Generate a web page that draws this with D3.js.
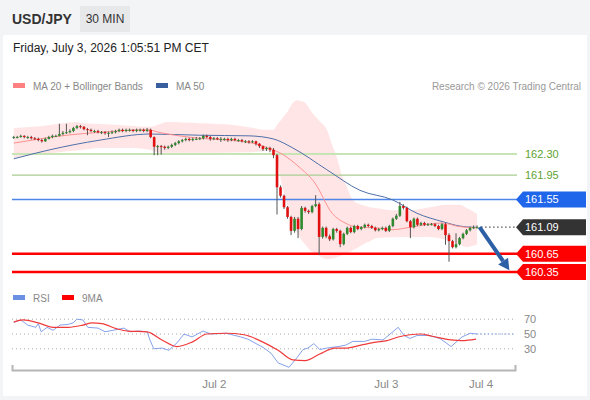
<!DOCTYPE html>
<html>
<head>
<meta charset="utf-8">
<script src="https://cdn.jsdelivr.net/npm/d3@7"></script>
<style>
  html, body { margin: 0; padding: 0; background: #f3f4f6; }
  svg { display: block; font-family: "Liberation Sans", Arial, sans-serif; }
</style>
</head>
<body>
<div id="chart"></div>
<script>
// ---- data ----
var firstOpen = 162.57;
var closes = [162.58,162.58,162.60,162.58,162.58,162.56,162.55,162.53,162.51,162.55,
  162.58,162.60,162.60,162.63,162.65,162.66,162.68,162.73,162.76,162.75,
  162.71,162.70,162.68,162.68,162.66,162.66,162.65,162.65,162.66,162.68,
  162.70,162.68,162.70,162.70,162.68,162.70,162.70,162.68,162.70,162.58,
  162.42,162.43,162.42,162.40,162.42,162.45,162.48,162.51,162.53,162.55,
  162.53,162.55,162.55,162.56,162.60,162.58,162.55,162.56,162.55,162.55,
  162.55,162.53,162.55,162.53,162.53,162.51,162.51,162.50,162.51,162.47,
  162.43,162.38,162.40,162.37,162.28,161.75,161.61,161.42,161.26,161.03,
  161.23,161.06,161.41,161.36,161.34,161.44,161.47,160.93,161.08,160.94,
  160.89,161.06,161.03,160.81,160.98,161.08,161.01,161.11,161.06,161.09,
  161.13,161.11,161.08,161.04,161.06,161.08,161.03,161.11,161.23,161.28,
  161.44,161.41,161.19,161.09,161.23,161.13,161.16,161.13,161.14,161.14,
  161.11,161.06,161.14,160.96,160.86,160.76,160.81,160.91,160.98,161.04,
  161.08,161.09,161.09];
var highs = [162.60,162.60,162.62,162.61,162.60,162.60,162.58,162.57,162.55,162.57,
  162.60,162.62,162.62,162.80,162.68,162.80,162.71,162.75,162.78,162.78,
  162.76,162.73,162.72,162.70,162.70,162.68,162.68,162.67,162.69,162.70,
  162.72,162.72,162.72,162.72,162.71,162.72,162.72,162.72,162.73,162.72,
  162.59,162.45,162.45,162.44,162.44,162.47,162.50,162.53,162.55,162.57,
  162.57,162.57,162.58,162.58,162.62,162.62,162.60,162.58,162.58,162.58,
  162.57,162.57,162.57,162.57,162.55,162.55,162.53,162.53,162.53,162.52,
  162.48,162.44,162.42,162.42,162.40,162.30,161.78,161.63,161.44,161.28,
  161.26,161.26,161.44,161.43,161.38,161.46,161.62,161.50,161.10,161.10,
  160.97,161.08,161.08,161.05,161.00,161.10,161.10,161.13,161.13,161.11,
  161.15,161.15,161.13,161.10,161.08,161.10,161.10,161.13,161.25,161.31,
  161.51,161.47,161.43,161.21,161.25,161.25,161.18,161.18,161.16,161.16,
  161.16,161.13,161.16,161.16,160.99,160.88,160.99,160.93,161.00,161.06,
  161.10,161.12,161.12];
var lows = [162.55,162.56,162.57,162.56,162.55,162.54,162.53,162.51,162.49,162.50,
  162.54,162.56,162.58,162.59,162.61,162.63,162.64,162.66,162.71,162.72,
  162.69,162.61,162.66,162.65,162.64,162.63,162.62,162.58,162.63,162.64,
  162.66,162.66,162.66,162.67,162.66,162.66,162.67,162.66,162.66,162.56,
  162.28,162.28,162.29,162.37,162.38,162.40,162.43,162.46,162.49,162.51,
  162.51,162.51,162.53,162.53,162.54,162.56,162.52,162.53,162.53,162.50,
  162.52,162.50,162.51,162.51,162.50,162.49,162.48,162.47,162.48,162.44,
  162.40,162.35,162.35,162.33,162.23,161.30,161.58,161.39,161.23,160.96,
  161.00,160.91,161.04,161.33,161.31,161.32,161.42,160.63,160.90,160.91,
  160.86,160.87,161.00,160.76,160.79,160.96,160.99,160.99,161.04,161.04,
  161.07,161.09,161.06,161.02,161.02,161.04,161.01,161.01,161.09,161.21,
  161.26,161.38,161.17,160.91,161.07,161.11,161.11,161.11,161.11,161.12,
  161.09,161.04,161.04,160.80,160.52,160.74,160.74,160.79,160.89,160.96,
  161.02,161.06,161.07];

// indicator readings as [candle index, value]
var ma20 = [[0,162.48],[7.5,162.55],[15,162.61],[25,162.66],[38,162.70],[42,162.65],[53,162.56],
  [61,162.53],[68,162.48],[72.4,162.40],[76.4,162.30],[81,162.10],[85.8,161.82],[90.7,161.32],
  [94.4,161.16],[98,161.09],[103,161.08],[108,161.05],[113,161.09],[122,161.16],[127,161.10],[132,161.08]];
var bbUpper = [[0,162.73],[5.5,162.75],[17.5,162.83],[19.7,162.81],[38.8,162.75],[43.7,162.83],
  [53,162.81],[62.5,162.78],[72,162.70],[74,162.70],[75,162.78],[76,162.85],[77,162.93],[78,163.00],
  [79,163.10],[80,163.17],[81,163.19],[83,163.15],[84.4,163.03],[87,162.85],[89.2,162.70],
  [90.7,162.45],[92,162.25],[93.5,161.95],[94.9,161.75],[96.6,161.54],[99,161.46],[101.5,161.42],
  [108,161.37],[113,161.37],[117.7,161.41],[123.4,161.46],[127,161.46],[130,161.38],[132,161.31]];
var bbLower = [[0,162.23],[4.6,162.28],[13,162.33],[24.6,162.40],[33,162.40],[38.8,162.37],
  [41.7,162.32],[53,162.32],[67,162.33],[72.4,162.35],[74,162.33],[75,162.20],[76,161.90],
  [77,161.65],[78,161.42],[79,161.22],[80,161.08],[82,160.88],[84.4,160.71],[87,160.62],
  [89.2,160.56],[91.5,160.58],[94,160.64],[96.6,160.71],[100,160.82],[103.5,160.91],[110,160.93],
  [117.7,160.93],[123.4,160.88],[129,160.76],[132,160.80]];
var ma50 = [[0,162.22],[10.3,162.37],[24.6,162.53],[38.8,162.63],[53,162.61],[67,162.60],
  [73.9,162.55],[79.5,162.40],[89.2,162.04],[98.6,161.70],[108,161.54],[114.9,161.32],
  [122.3,161.18],[127,161.11],[130.8,161.09],[132,161.09]];
var rsi = [[0,66],[2,69],[4,62],[6.3,59],[7,64],[7.8,53],[9.5,59],[11.2,55],[13.2,62],[15.5,63],
  [16.9,65],[18,70],[19.7,69],[21.1,59],[24,58],[26,53],[28.3,55],[31.4,58],[33.1,53],[35.7,54],
  [38,53],[38.8,42],[39.9,30],[42.2,31],[44.2,28],[46.5,38],[48.5,50],[50.8,46],[53.9,54],
  [56.2,50],[60.5,51],[64.7,46],[66.7,43],[71,32],[73.3,24],[75.3,11],[78.4,5],[80.7,18],
  [82.4,29],[83.8,31],[85.5,37],[87.2,29],[89.2,31],[92.4,33],[94.6,35],[96.6,40],[100,40],
  [102,43],[105.2,42],[107.5,51],[109.5,59],[111.2,48],[112.9,44],[114.9,48],[118.3,48],
  [121.4,44],[124.6,33],[127.7,46],[130,51],[132,50]];
var rsiMa = [[0,66],[2.6,69],[7,65],[11.2,59],[15.5,59],[19.7,62],[22.3,65],[25.1,64],[29.4,57],
  [32.5,54],[38,53],[42.2,42],[46.5,33],[50.8,39],[55,50],[60.5,51],[65.6,49],[71,39],[75.3,28],
  [79.5,15],[83,14],[87.2,23],[91.5,31],[94.6,31],[98.9,35],[103.2,39],[106.3,41],[109.5,46],
  [112.9,49],[116,50],[119.2,47],[124.6,42],[127.7,41],[131.7,43]];

var dayTicks = [57, 106, 133];
var dayLabels = ['Jul 2', 'Jul 3', 'Jul 4'];
var levels = [162.30, 161.95, 161.55, 161.09, 160.65, 160.35];
var levelKinds = ['res2', 'res1', 'pivot', 'last', 'sup', 'sup'];
var rsiLevels = [70, 50, 30];
var lastPrice = 161.09;
var targetPrice = 160.38;

// ---- layout ----
var W = 590, H = 400;
var svg = d3.select('#chart').append('svg').attr('width', W).attr('height', H);

svg.append('rect').attr('x', 3).attr('y', 35).attr('width', 584).attr('height', 361).attr('fill', '#fff');

// header
svg.append('text').attr('x', 12).attr('y', 24).attr('font-size', 14).attr('font-weight', 'bold')
  .attr('fill', '#333').text('USD/JPY');
svg.append('rect').attr('x', 80).attr('y', 6).attr('width', 50).attr('height', 26).attr('fill', '#e7e8ea');
svg.append('text').attr('x', 105).attr('y', 23).attr('text-anchor', 'middle').attr('font-size', 12)
  .attr('fill', '#333').text('30 MIN');
svg.append('text').attr('x', 13).attr('y', 52).attr('font-size', 12).attr('fill', '#222')
  .text('Friday, July 3, 2026 1:05:51 PM CET');

function legendItem(x, y, color, label){
  svg.append('rect').attr('x', x).attr('y', y - 3).attr('width', 12).attr('height', 5).attr('fill', color);
  svg.append('text').attr('x', x + 20).attr('y', y + 3.5).attr('font-size', 10).attr('fill', '#888').text(label);
}
legendItem(13, 86, '#ff8080', 'MA 20 + Bollinger Bands');
legendItem(156, 86, '#3a5f9f', 'MA 50');
svg.append('text').attr('x', 581).attr('y', 89.5).attr('text-anchor', 'end').attr('font-size', 10)
  .attr('fill', '#999').text('Research \u00a9 2026 Trading Central');

// scales
var x = d3.scaleLinear().domain([-0.5, 142.8]).range([12, 515]);
var y = d3.scaleLinear().domain([162.30, 160.35]).range([154, 272]);
var yr = d3.scaleLinear().domain([0, 100]).range([371, 297]);

var candles = closes.map(function(c, i){
  return { i: i, o: i ? closes[i - 1] : firstOpen, h: highs[i], l: lows[i], c: c };
});

// bollinger band area: upper and lower joined on the union of their reading points
var band = d3.area()
  .x(function(d){ return x(d[0]); })
  .y0(function(d){ return y(d[1]); })
  .y1(function(d){ return y(d[2]); })
  .curve(d3.curveMonotoneX);
var idx = d3.sort(d3.union(bbUpper.map(function(d){ return d[0]; }), bbLower.map(function(d){ return d[0]; })));
function lookup(arr){
  return d3.scaleLinear().domain(arr.map(function(d){ return d[0]; })).range(arr.map(function(d){ return d[1]; }));
}
var upAt = lookup(bbUpper), loAt = lookup(bbLower);
svg.append('path')
  .datum(idx.map(function(k){ return [k, upAt(k), loAt(k)]; }))
  .attr('fill', '#ffe2e2').attr('opacity', 0.9)
  .attr('d', band);

// level lines
var g = svg.append('g');
levels.forEach(function(v, k){
  var kind = levelKinds[k];
  if (kind === 'last') return;
  var col = { res2: '#c6e4b4', res1: '#a9cd92', pivot: '#4d86e8', sup: '#ff0000' }[kind];
  var sw = { res2: 2, res1: 1.2, pivot: 1.5, sup: 2.5 }[kind];
  g.append('line').attr('x1', 12).attr('x2', 517).attr('y1', y(v)).attr('y2', y(v))
    .attr('stroke', col).attr('stroke-width', sw);
});

// lines
var line = d3.line().x(function(d){ return x(d[0]); }).y(function(d){ return y(d[1]); }).curve(d3.curveMonotoneX);
svg.append('path').datum(ma50).attr('fill', 'none').attr('stroke', '#4f70aa').attr('stroke-width', 1).attr('d', line);
svg.append('path').datum(ma20).attr('fill', 'none').attr('stroke', '#ff9090').attr('stroke-width', 1).attr('d', line);

// candles
var cg = svg.append('g');
cg.selectAll('line.wick').data(candles).enter().append('line')
  .attr('x1', function(d){ return x(d.i); }).attr('x2', function(d){ return x(d.i); })
  .attr('y1', function(d){ return y(d.h); }).attr('y2', function(d){ return y(d.l); })
  .attr('stroke', '#555').attr('stroke-width', 1);
cg.selectAll('rect.body').data(candles).enter().append('rect')
  .attr('x', function(d){ return x(d.i) - 1.3; }).attr('width', 2.6)
  .attr('y', function(d){ return y(Math.max(d.o, d.c)); })
  .attr('height', function(d){ return Math.max(1, Math.abs(y(d.o) - y(d.c))); })
  .attr('fill', function(d){ return d.c >= d.o ? '#2f8a2f' : '#e01010'; });

// last price dotted extension
svg.append('line').attr('x1', x(132) + 4).attr('x2', 517).attr('y1', y(lastPrice)).attr('y2', y(lastPrice))
  .attr('stroke', '#555').attr('stroke-width', 1.2).attr('stroke-dasharray', '1.5,2.5');

// arrow
var ax0 = x(132.7), ay0 = y(lastPrice), ax1 = x(141.2), ay1 = y(targetPrice);
var ang = Math.atan2(ay1 - ay0, ax1 - ax0);
var hl = 11, hw = 6;
var bx = ax1 - hl * Math.cos(ang), by = ay1 - hl * Math.sin(ang);
svg.append('line').attr('x1', ax0).attr('y1', ay0).attr('x2', bx).attr('y2', by)
  .attr('stroke', '#2d5fa6').attr('stroke-width', 4);
svg.append('path').attr('fill', '#2d5fa6')
  .attr('d', 'M' + ax1 + ',' + ay1 +
    'L' + (bx + hw * Math.sin(ang)) + ',' + (by - hw * Math.cos(ang)) +
    'L' + (bx - hw * Math.sin(ang)) + ',' + (by + hw * Math.cos(ang)) + 'Z');

// level labels
levels.forEach(function(v, k){
  var kind = levelKinds[k];
  var yy = y(v);
  var txt = v.toFixed(2);
  if (kind === 'res2' || kind === 'res1'){
    svg.append('text').attr('x', 525).attr('y', yy + 4).attr('font-size', 11).attr('fill', '#5ea232').text(txt);
    return;
  }
  var fill = { pivot: '#1f66ea', last: '#333333', sup: '#ff0000' }[kind];
  svg.append('path').attr('fill', fill)
    .attr('d', 'M516,' + yy + 'L523,' + (yy - 8) + 'H586V' + (yy + 8) + 'H523Z');
  svg.append('text').attr('x', 525).attr('y', yy + 4).attr('font-size', 11).attr('fill', '#fff').text(txt);
});

// ---- RSI panel ----
legendItem(13, 298, '#6a8fe3', 'RSI');
legendItem(62, 298, '#ff0000', '9MA');
rsiLevels.forEach(function(v){
  svg.append('line').attr('x1', 12).attr('x2', 515).attr('y1', yr(v)).attr('y2', yr(v))
    .attr('stroke', '#aaa').attr('stroke-width', 1).attr('stroke-dasharray', '1,3');
  svg.append('text').attr('x', 524).attr('y', yr(v) + 4).attr('font-size', 11).attr('fill', '#888').text(v);
});
var rline = d3.line().x(function(d){ return x(d[0]); }).y(function(d){ return yr(d[1]); });
svg.append('path').datum(rsi).attr('fill', 'none').attr('stroke', '#86a2ea').attr('stroke-width', 1).attr('d', rline);
svg.append('path').datum(rsiMa).attr('fill', 'none').attr('stroke', '#f03a3a').attr('stroke-width', 1.2)
  .attr('d', rline.curve(d3.curveMonotoneX));
var lastRsi = rsi[rsi.length - 1];
svg.append('line').attr('x1', x(lastRsi[0])).attr('x2', 515).attr('y1', yr(lastRsi[1])).attr('y2', yr(lastRsi[1]))
  .attr('stroke', '#86a2ea').attr('stroke-width', 1).attr('stroke-dasharray', '1.5,2');

// x axis
var xAxis = d3.axisBottom(x).tickValues(dayTicks)
  .tickFormat(function(d, i){ return dayLabels[i]; })
  .tickSizeInner(0).tickSizeOuter(-5).tickPadding(10);
var ag = svg.append('g').attr('transform', 'translate(0,370)').call(xAxis);
ag.select('.domain').attr('stroke', '#b5b5b5').attr('stroke-width', 2);
ag.selectAll('text').attr('fill', '#888').attr('font-size', 11.5).attr('font-family', '"Liberation Sans", Arial, sans-serif');
</script>
</body>
</html>
